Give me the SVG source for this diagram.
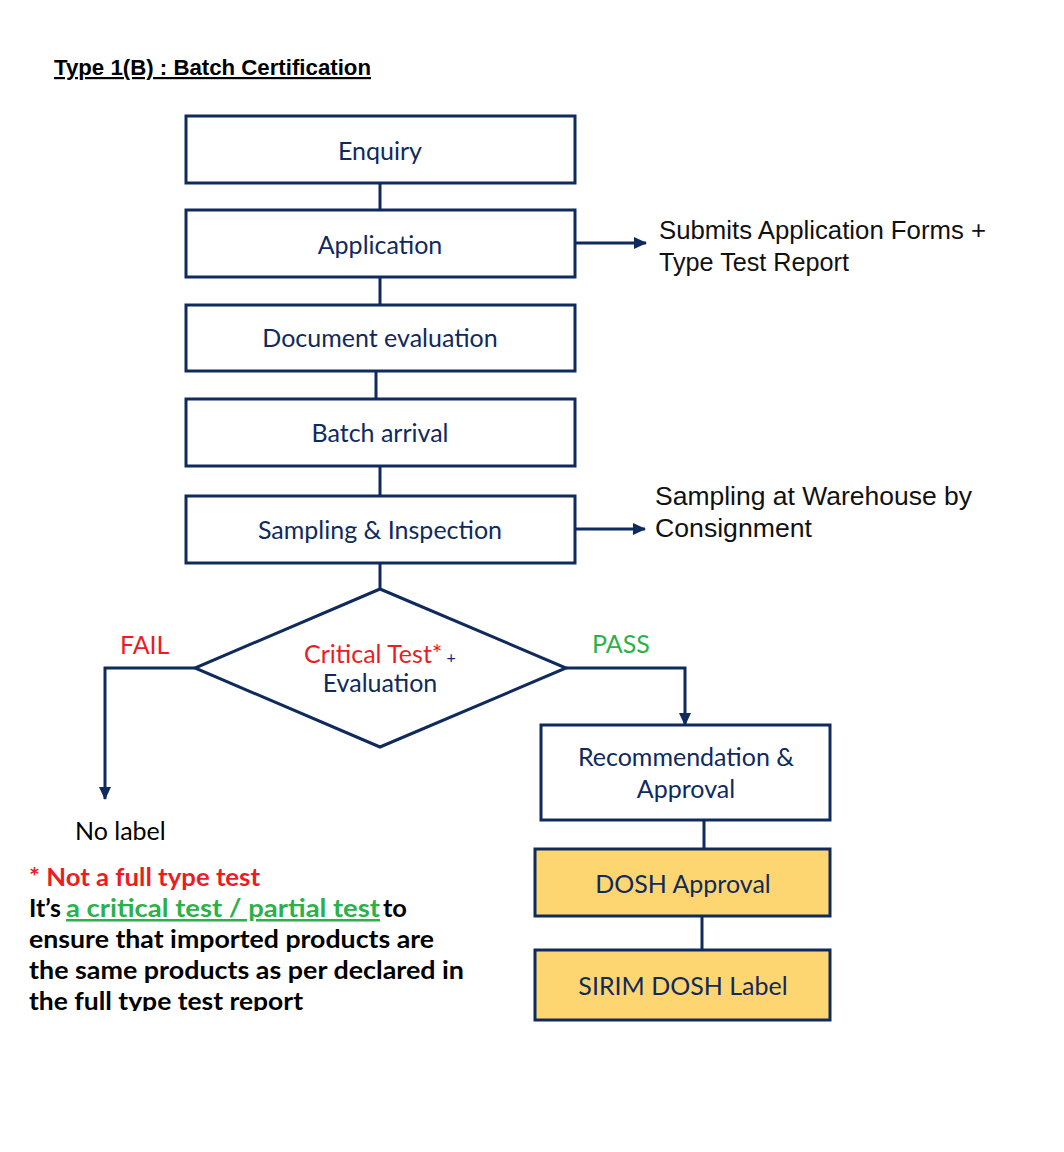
<svg xmlns="http://www.w3.org/2000/svg" width="1064" height="1152" viewBox="0 0 1064 1152">
<style>
.box{fill:#ffffff;stroke:#0f2a5c;stroke-width:3}
.ybox{fill:#fdd672;stroke:#0f2a5c;stroke-width:3}
.lbl{font-family:Lato,"Noto Sans",sans-serif;font-size:25px;fill:#0f2a5c;text-anchor:middle}
.side{font-family:"Liberation Sans",sans-serif;font-size:25px;fill:#111111}
.line{fill:none;stroke:#0f2a5c;stroke-width:3}
.note{font-family:Lato,"Noto Sans",sans-serif;font-size:25px;font-weight:bold;fill:#000000}
</style>
<defs>
<marker id="arr" markerWidth="13" markerHeight="12" refX="12" refY="6" orient="auto" markerUnits="userSpaceOnUse" viewBox="0 0 13 12">
<path d="M0,0 L13,6 L0,12 Z" fill="#0f2a5c"/>
</marker>
<clipPath id="noteclip"><rect x="0" y="850" width="520" height="161"/></clipPath>
</defs>
<rect width="1064" height="1152" fill="#ffffff"/>
<text x="54" y="75" font-family="'Liberation Sans',sans-serif" font-size="22" font-weight="bold" fill="#000" text-decoration="underline" textLength="317" lengthAdjust="spacingAndGlyphs">Type 1(B) : Batch Certification</text>

<g id="connectors">
<line class="line" x1="380" y1="183" x2="380" y2="210"/>
<line class="line" x1="380" y1="277" x2="380" y2="305"/>
<line class="line" x1="376" y1="371" x2="376" y2="399"/>
<line class="line" x1="380" y1="466" x2="380" y2="496"/>
<line class="line" x1="380" y1="563" x2="380" y2="589"/>
<line class="line" x1="575" y1="243" x2="646" y2="243" marker-end="url(#arr)"/>
<line class="line" x1="575" y1="529" x2="645" y2="529" marker-end="url(#arr)"/>
<polyline class="line" points="195,668 105,668 105,799" marker-end="url(#arr)"/>
<polyline class="line" points="566,668 685,668 685,725" marker-end="url(#arr)"/>
<line class="line" x1="704" y1="820" x2="704" y2="849"/>
<line class="line" x1="702" y1="916" x2="702" y2="950"/>
<text x="120" y="654" font-family="Lato,'Noto Sans',sans-serif" font-size="25" fill="#ec1c24">FAIL</text>
<text x="592" y="653" font-family="Lato,'Noto Sans',sans-serif" font-size="25" fill="#2bb14a">PASS</text>
</g>

<g id="enquiry"><rect class="box" x="186" y="116" width="389" height="67"/><text class="lbl" x="380" y="160">Enquiry</text></g>
<g id="application"><rect class="box" x="186" y="210" width="389" height="67"/><text class="lbl" x="380" y="254">Application</text></g>
<g id="document"><rect class="box" x="186" y="305" width="389" height="66"/><text class="lbl" x="380" y="347">Document evaluation</text></g>
<g id="batch"><rect class="box" x="186" y="399" width="389" height="67"/><text class="lbl" x="380" y="442">Batch arrival</text></g>
<g id="sampling"><rect class="box" x="186" y="496" width="389" height="67"/><text class="lbl" x="380" y="539">Sampling &amp; Inspection</text></g>
<g id="decision"><polygon class="box" points="380,589 566,668 380,747 195,668"/>
<text class="lbl" x="380" y="663" font-size="23"><tspan fill="#ec1c24">Critical Test*</tspan><tspan font-size="16"> +</tspan></text>
<text class="lbl" x="380" y="692" font-size="23">Evaluation</text></g>
<g id="recommendation"><rect class="box" x="541" y="725" width="289" height="95"/><text class="lbl" x="686" y="766">Recommendation &amp;</text><text class="lbl" x="686" y="798">Approval</text></g>
<g id="dosh"><rect class="ybox" x="535" y="849" width="295" height="67"/><text class="lbl" x="683" y="893">DOSH Approval</text></g>
<g id="sirim"><rect class="ybox" x="535" y="950" width="295" height="70"/><text class="lbl" x="683" y="995">SIRIM DOSH Label</text></g>

<g id="side-notes">
<text class="side" x="659" y="239" textLength="327" lengthAdjust="spacingAndGlyphs">Submits Application Forms +</text>
<text class="side" x="659" y="271" textLength="190" lengthAdjust="spacingAndGlyphs">Type Test Report</text>
<text class="side" x="655" y="505" textLength="317" lengthAdjust="spacingAndGlyphs">Sampling at Warehouse by</text>
<text class="side" x="655" y="537" textLength="157" lengthAdjust="spacingAndGlyphs">Consignment</text>
</g>

<g id="nolabel"><text x="75" y="840" font-family="Lato,'Noto Sans',sans-serif" font-size="25" fill="#000">No label</text></g>

<g id="footnote" clip-path="url(#noteclip)">
<text class="note" x="29" y="886" style="fill:#ec1c24" textLength="231" lengthAdjust="spacingAndGlyphs">* Not a full type test</text>
<text class="note" x="29" y="917" textLength="32" lengthAdjust="spacingAndGlyphs">It’s</text>
<text class="note" x="66" y="917" style="fill:#2bb14a" text-decoration="underline" textLength="314" lengthAdjust="spacingAndGlyphs">a critical test / partial test </text>
<text class="note" x="383" y="917" textLength="24" lengthAdjust="spacingAndGlyphs">to</text>
<text class="note" x="29" y="948" textLength="405" lengthAdjust="spacingAndGlyphs">ensure that imported products are</text>
<text class="note" x="29" y="979" textLength="435" lengthAdjust="spacingAndGlyphs">the same products as per declared in</text>
<text class="note" x="29" y="1010" textLength="274" lengthAdjust="spacingAndGlyphs">the full type test report</text>
</g>
</svg>
